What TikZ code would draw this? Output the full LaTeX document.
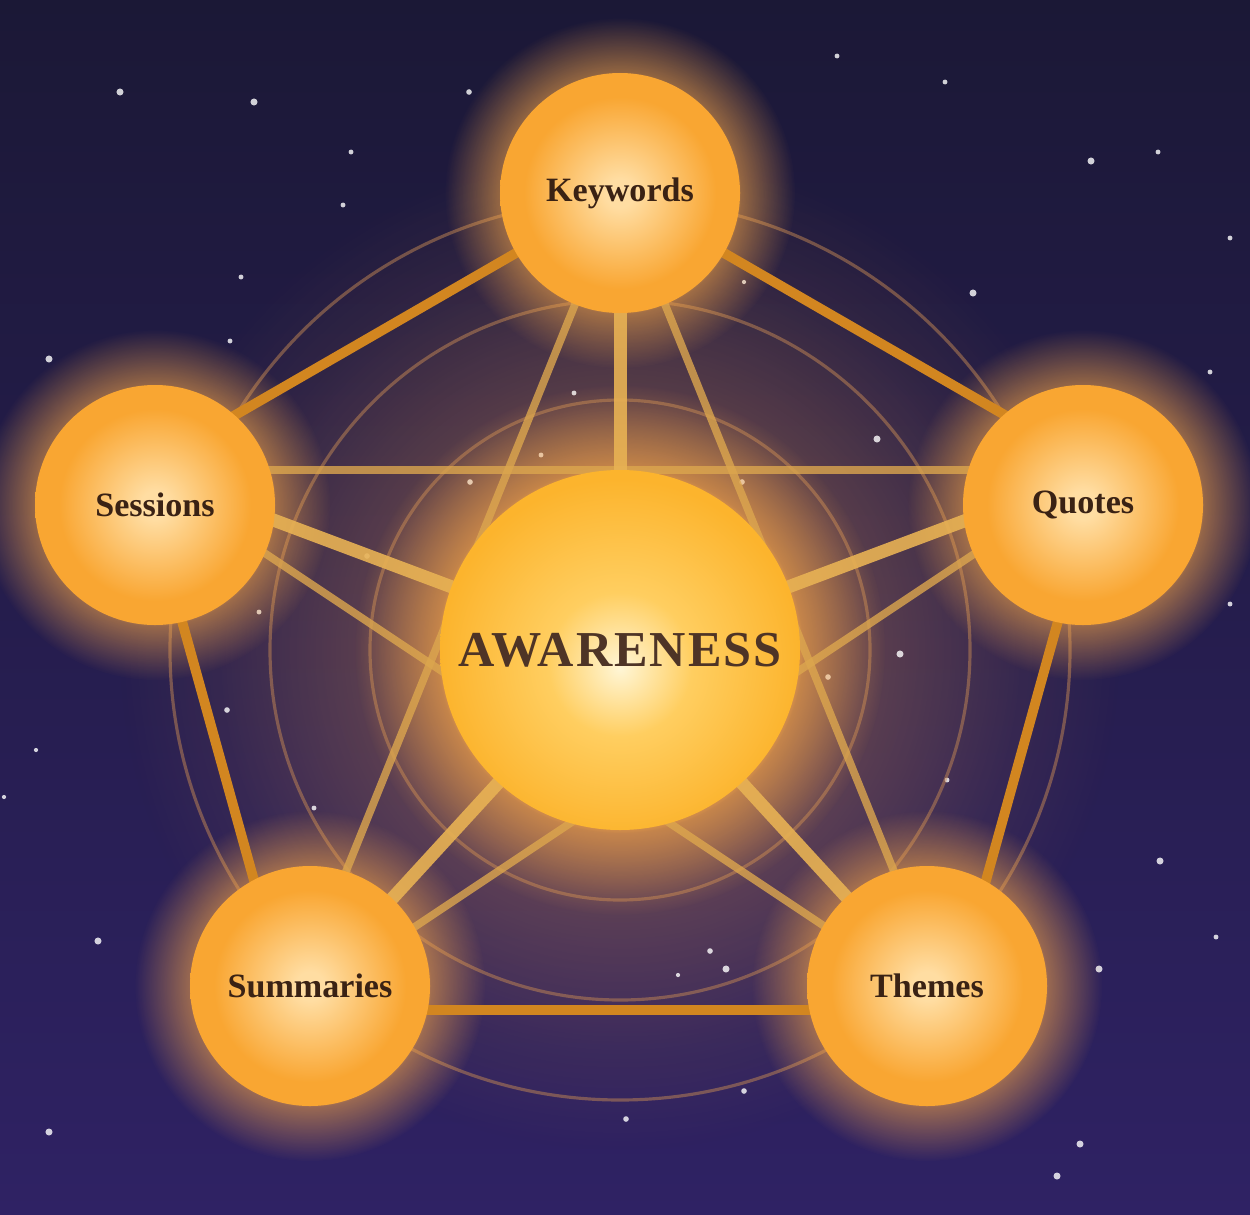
\documentclass[tikz,border=0pt]{standalone}
\usepackage{fontspec}
\setmainfont{Liberation Serif}
\usetikzlibrary{fadings}
\definecolor{skyTop}{RGB}{27,24,54}
\definecolor{skyBot}{RGB}{47,34,100}
\definecolor{ink}{RGB}{58,34,20}
\definecolor{inkAw}{RGB}{78,52,38}
\definecolor{cRim}{RGB}{210,134,32}
\definecolor{cChord}{RGB}{220,166,78}
\definecolor{cSpoke}{RGB}{232,178,84}
\definecolor{cRing}{RGB}{196,136,84}
\definecolor{cGlow}{RGB}{246,166,72}
\definecolor{cWarm}{RGB}{215,140,78}
\definecolor{orbIn}{RGB}{255,221,162}
\definecolor{orbOut}{RGB}{249,166,50}
\definecolor{awIn}{RGB}{255,246,214}
\definecolor{awMid}{RGB}{255,206,96}
\definecolor{awOut}{RGB}{252,180,45}
% shadings and fadings (path box maps to 25bp radius)
\pgfdeclareradialshading{orbshade}{\pgfpoint{0bp}{0bp}}{color(0bp)=(orbIn);
  color(3bp)=(orbIn); color(20bp)=(orbOut); color(25bp)=(orbOut); color(50bp)=(orbOut)}
\pgfdeclareradialshading{awshade}{\pgfpoint{0bp}{-2.5bp}}{color(0bp)=(awIn);
  color(10bp)=(awMid); color(25bp)=(awOut); color(50bp)=(awOut)}
\pgfdeclareradialshading{haloshade}{\pgfpoint{0bp}{0bp}}{color(0bp)=(white);
  color(16bp)=(white); color(17.2bp)=(white!60!black); color(25bp)=(black);
  color(50bp)=(black)}
\pgfdeclarefading{halo}{\pgfuseshading{haloshade}}
\pgfdeclareradialshading{warmshade}{\pgfpoint{0bp}{0bp}}{color(0bp)=(white);
  color(9bp)=(white!80!black); color(12.5bp)=(white!50!black);
  color(20bp)=(white!15!black); color(25bp)=(black); color(50bp)=(black)}
\pgfdeclarefading{warm}{\pgfuseshading{warmshade}}
\pgfdeclarelayer{sky}
\pgfdeclarelayer{web}
\pgfsetlayers{sky,web,main}

\begin{document}
\begin{tikzpicture}[
  orb/.style={circle,minimum size=2.4cm,inner sep=0pt,shading=orbshade,
              font=\bfseries\fontsize{9.7}{11}\selectfont,text=ink},
  sun/.style={circle,minimum size=3.6cm,inner sep=0pt,shading=awshade,
              font=\bfseries\fontsize{14.3}{16}\selectfont,text=inkAw},
  rim/.style={cRim,line width=2.8pt},
  chord/.style={cChord,line width=2.2pt,opacity=.8},
  spoke/.style={cSpoke,line width=3.7pt,opacity=.9},
  ring/.style={cRing,line width=.9pt,opacity=.5}]
  \useasboundingbox (0,0) rectangle (12.5,12.14);
  % centre and the five outer orbs
  \node[sun] (aw)  at (6.20,5.64)  {\addfontfeature{LetterSpace=4}AWARENESS};
  \node[orb] (kw)  at (6.20,10.21) {Keywords};
  \node[orb] (ses) at (1.55,7.09)  {Sessions};
  \node[orb] (quo) at (10.83,7.09) {Quotes};
  \node[orb] (sum) at (3.10,2.28)  {Summaries};
  \node[orb] (thm) at (9.27,2.28)  {Themes};
  % points the lines aim at
  \coordinate (sesP) at ([shift={(-0.15,0.35)}]ses.center);
  \coordinate (quoP) at ([shift={(0.17,0.35)}]quo.center);
  \coordinate (sumP) at ([shift={(-0.20,-0.24)}]sum.center);
  \coordinate (thmP) at ([shift={(0.23,-0.24)}]thm.center);
  \begin{pgfonlayer}{sky}
    \clip (0,0) rectangle (12.5,12.14);
    \shade[top color=skyTop,bottom color=skyBot] (0,0) rectangle (12.5,12.14);
    \fill[cWarm,path fading=warm,fill opacity=.6] (aw.center) circle (5.0);
    % stars
    \foreach \x/\y/\s in {1.20/11.22/1, 2.54/11.12/1, 3.51/10.62/.7, 3.43/10.09/.7,
        2.41/9.37/.7, 2.30/8.73/.7, 0.49/8.55/1, 8.37/11.58/.7, 9.45/11.32/.7,
        10.91/10.53/1, 11.58/10.62/.7, 9.73/9.21/1, 12.30/9.76/.7, 12.10/8.42/.7,
        12.30/6.10/.7, 11.60/3.53/1, 10.99/2.45/1, 12.16/2.77/.7, 10.80/0.70/1,
        10.57/0.38/1, 0.49/0.82/1, 0.98/2.73/1, 0.36/4.64/.6, 0.04/4.17/.6,
        8.77/7.75/1, 9.00/5.60/1, 7.10/2.63/.8, 7.26/2.45/1, 7.44/1.23/.8,
        4.82/2.03/1, 6.26/0.95/.8, 9.47/4.34/.7, 2.27/5.04/.8, 2.59/6.02/.7,
        3.67/6.58/.8, 5.74/8.21/.7, 5.41/7.59/.7, 4.70/7.32/.8, 7.42/7.32/.8,
        8.28/5.37/.8, 3.14/4.06/.7, 4.69/11.22/.8, 7.44/9.32/.6, 6.78/2.39/.6}
      \fill[white,opacity=.8] (\x,\y) circle (\s pt);
    % rings round the centre
    \foreach \r in {2.5,3.5,4.5}
      \draw[ring] (aw.center) circle (\r);
    % halos
    \foreach \n in {kw,ses,quo,sum,thm}
      \fill[cGlow,path fading=halo,fill opacity=.9] (\n.center) circle (1.75);
    \fill[cGlow,path fading=halo] (aw.center) circle (2.65);
  \end{pgfonlayer}
  \begin{pgfonlayer}{web}
    % outer pentagon
    \draw[rim,line join=round] (kw.center) -- (sesP) -- (sumP) -- (thmP) -- (quoP) -- cycle;
    % inner star
    \draw[chord] (kw.center) -- (sumP);
    \draw[chord] (kw.center) -- (thmP);
    \draw[chord] (sesP) -- (quoP);
    \draw[chord] (sesP) -- (thmP);
    \draw[chord] (quoP) -- (sumP);
    % spokes
    \foreach \p in {kw.center,sesP,quoP,sumP,thmP}
      \draw[spoke] (aw.center) -- (\p);
  \end{pgfonlayer}
\end{tikzpicture}
\end{document}
